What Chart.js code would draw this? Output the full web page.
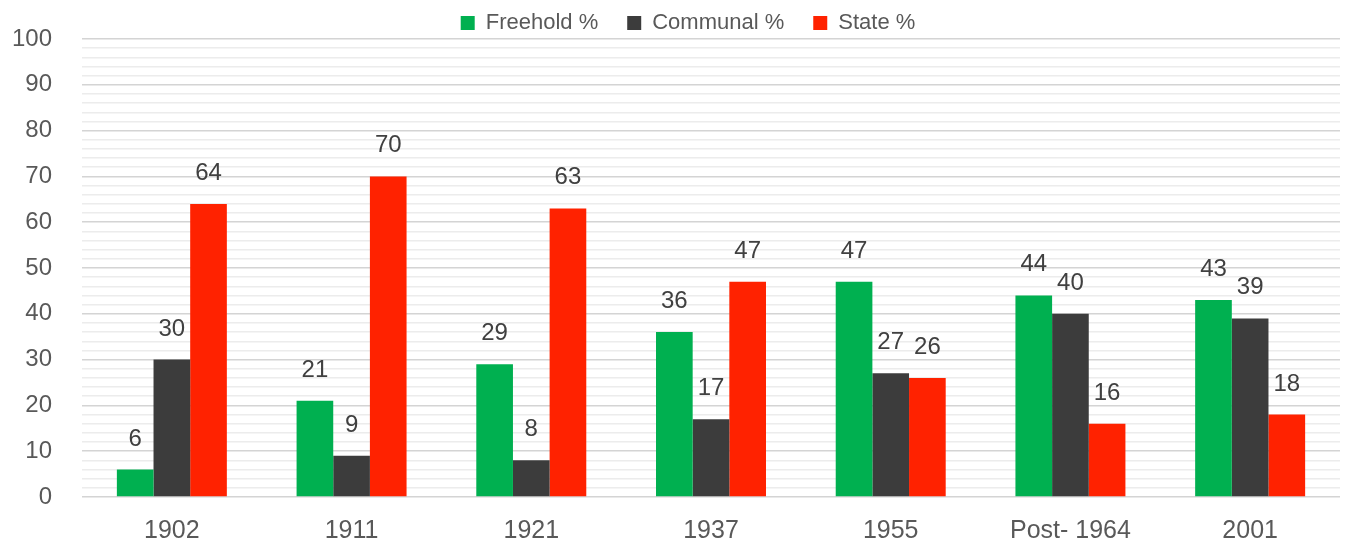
<!DOCTYPE html>
<html>
<head>
<meta charset="utf-8">
<title>Land tenure shares</title>
<script src="https://cdn.jsdelivr.net/npm/chart.js"></script>
<style>
  html, body { margin: 0; padding: 0; background: #fff; }
  #wrap { width: 1349px; height: 551px; position: relative; }
</style>
</head>
<body>
<div id="wrap"><canvas id="tenureChart"></canvas></div>
<script>
// Chart data
const categories = ['1902', '1911', '1921', '1937', '1955', 'Post- 1964', '2001'];
const freehold = [6, 21, 29, 36, 47, 44, 43];
const communal = [30, 9, 8, 17, 27, 40, 39];
const state = [64, 70, 63, 47, 26, 16, 18];
const seriesNames = ['Freehold %', 'Communal %', 'State %'];
const seriesColors = ['#00b050', '#3c3c3c', '#ff2200'];

const fontFamily = "'Liberation Sans', Arial, sans-serif";
const textColor = '#595959';

// Value labels above each bar
const barLabels = {
  id: 'barLabels',
  afterDatasetsDraw(chart) {
    const ctx = chart.ctx;
    ctx.save();
    ctx.font = `24px ${fontFamily}`;
    ctx.fillStyle = '#404040';
    ctx.textAlign = 'center';
    ctx.textBaseline = 'alphabetic';
    chart.data.datasets.forEach((ds, i) => {
      chart.getDatasetMeta(i).data.forEach((bar, j) => {
        ctx.fillText(String(ds.data[j]), bar.x, bar.y - 24);
      });
    });
    ctx.restore();
  }
};

// Keep the legend box short so the plot starts near the top edge,
// then move it up/right so it sits over the plot like the original
const legendTweak = {
  id: 'legendTweak',
  afterInit(chart) {
    const legend = chart.legend;
    if (!legend) return;
    const fit = legend.fit;
    legend.fit = function() {
      fit.call(this);
      this.height = 39;
    };
  },
  afterLayout(chart) {
    const legend = chart.legend;
    if (!legend) return;
    legend.left += 18;
    legend.right += 18;
    legend.top -= 17;
  }
};

function makeDataset(idx, values) {
  return {
    label: seriesNames[idx],
    data: values,
    backgroundColor: seriesColors[idx],
    borderWidth: 0,
    categoryPercentage: 0.612,
    barPercentage: 1.0
  };
}

function initChart() {
  const ctx = document.getElementById('tenureChart').getContext('2d');

  new Chart(ctx, {
    type: 'bar',
    data: {
      labels: categories,
      datasets: [
        makeDataset(0, freehold),
        makeDataset(1, communal),
        makeDataset(2, state)
      ]
    },
    options: {
      responsive: true,
      maintainAspectRatio: false,
      animation: false,
      layout: { padding: { left: 0, right: 9, top: 0, bottom: 0 } },
      plugins: {
        tooltip: { enabled: false },
        legend: {
          position: 'top',
          labels: {
            boxWidth: 14,
            boxHeight: 14,
            padding: 29,
            color: textColor,
            font: { family: fontFamily, size: 22 }
          }
        }
      },
      scales: {
        x: {
          grid: { display: false },
          border: { display: false },
          ticks: {
            color: textColor,
            padding: 11,
            font: { family: fontFamily, size: 25 }
          },
          afterFit(scale) { scale.height = 54; }
        },
        y: {
          min: 0,
          max: 100,
          border: { display: false },
          grid: {
            drawTicks: false,
            lineWidth: 1.5,
            color: c => (c.tick && c.tick.value % 10 === 0) ? '#d4d4d4' : '#ececec'
          },
          ticks: {
            stepSize: 2,
            autoSkip: false,
            color: textColor,
            padding: 30,
            font: { family: fontFamily, size: 24 },
            callback: v => (v % 10 === 0 ? v : '')
          },
          afterFit(scale) {
            scale.width = 82;
            // tick padding is meant for the horizontal gap only
            scale.paddingTop = 14;
            scale.paddingBottom = 14;
          }
        }
      }
    },
    plugins: [barLabels, legendTweak]
  });
}

document.addEventListener('DOMContentLoaded', initChart);
</script>
</body>
</html>
